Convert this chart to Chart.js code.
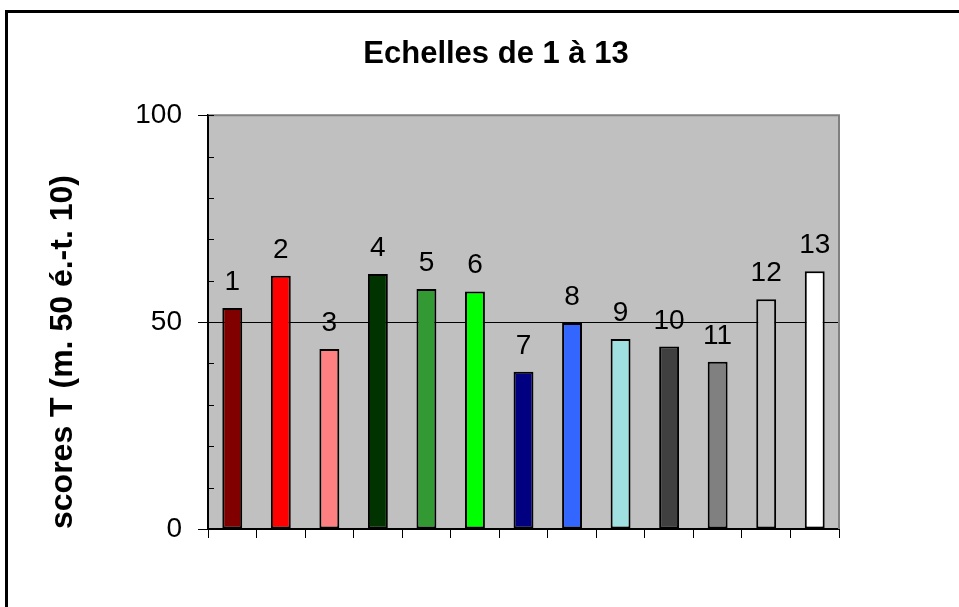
<!DOCTYPE html>
<html>
<head>
<meta charset="utf-8">
<script src="https://cdn.jsdelivr.net/npm/chart.js@4"></script>
<style>
  html, body { margin: 0; padding: 0; background: #fff; }
  #wrap { width: 959px; height: 607px; }
</style>
</head>
<body>
<div id="wrap"><canvas id="bars1"></canvas></div>
<script>
var labels = ['1','2','3','4','5','6','7','8','9','10','11','12','13'];
var scores = [53.4, 61.2, 43.5, 61.6, 58.0, 57.4, 38.0, 49.8, 45.9, 44.1, 40.4, 55.5, 62.3];
var colors = ['#800000','#ff0000','#ff8080','#003300','#339933','#00ff00','#000080','#3366ff','#a0e0e0','#404040','#808080','#c0c0c0','#ffffff'];
var yTicksShown = [0, 50, 100];

var font = "'Liberation Sans', Arial, sans-serif";

// gray plot area + outer frame
var backdrop = {
    id: 'backdrop',
    beforeDraw: function (chart) {
        var c = chart.ctx, a = chart.chartArea;
        c.save();
        c.fillStyle = '#c0c0c0';
        c.fillRect(a.left, a.top, a.right - a.left, a.bottom - a.top);
        c.strokeStyle = '#000';
        c.lineWidth = 3;
        c.beginPath();
        c.moveTo(6.5, 607);
        c.lineTo(6.5, 11.5);
        c.lineTo(959, 11.5);
        c.stroke();
        c.restore();
    },
    afterDraw: function (chart) {
        var c = chart.ctx, a = chart.chartArea, y = chart.scales.y;
        c.save();
        c.strokeStyle = '#808080';
        c.lineWidth = 2;
        c.beginPath();
        c.moveTo(a.left, a.top);
        c.lineTo(a.right, a.top);
        c.lineTo(a.right, a.bottom);
        c.stroke();
        // small inner ticks every 10
        c.strokeStyle = '#000';
        c.lineWidth = 1;
        for (var v = 0; v <= 100; v += 10) {
            var py = Math.round(y.getPixelForValue(v)) + 0.5;
            c.beginPath();
            c.moveTo(a.left, py);
            c.lineTo(a.left + 6, py);
            c.stroke();
        }
        c.restore();
    }
};

// number above each bar
var barLabels = {
    id: 'barLabels',
    afterDatasetsDraw: function (chart) {
        var c = chart.ctx;
        var meta = chart.getDatasetMeta(0);
        c.save();
        c.font = '28px ' + font;
        c.fillStyle = '#000';
        c.textAlign = 'center';
        c.textBaseline = 'alphabetic';
        meta.data.forEach(function (bar, i) {
            c.fillText(labels[i], bar.x, bar.y - 18);
        });
        c.restore();
    }
};

var ctx = document.getElementById('bars1').getContext('2d');
new Chart(ctx, {
    type: 'bar',
    data: {
        labels: labels,
        datasets: [{
            data: scores,
            backgroundColor: colors,
            borderColor: '#000',
            borderWidth: 2,
            borderSkipped: false,
            barPercentage: 0.41,
            categoryPercentage: 1
        }]
    },
    options: {
        responsive: true,
        maintainAspectRatio: false,
        animation: false,
        layout: { padding: { left: 33, right: 0, top: 0, bottom: 0 } },
        plugins: {
            legend: { display: false },
            tooltip: { enabled: false },
            title: {
                display: true,
                text: 'Echelles de 1 à 13',
                color: '#000',
                font: { family: font, size: 31, weight: 'bold', lineHeight: 1.2 },
                padding: { top: 36, bottom: 42 }
            }
        },
        scales: {
            x: {
                grid: {
                    offset: true,
                    drawOnChartArea: false,
                    drawTicks: true,
                    tickLength: 9,
                    tickColor: '#000',
                    tickWidth: 1
                },
                border: { color: '#000', width: 2 },
                ticks: { display: false },
                afterFit: function (s) { s.height = 78; }
            },
            y: {
                min: 0,
                max: 100,
                ticks: {
                    stepSize: 10,
                    autoSkip: false,
                    padding: 16,
                    color: '#000',
                    font: { family: font, size: 28 },
                    callback: function (v) { return yTicksShown.indexOf(v) >= 0 ? String(v) : ''; }
                },
                grid: {
                    color: function (c) { return c.tick && c.tick.value === 50 ? '#000' : 'rgba(0,0,0,0)'; },
                    lineWidth: 1,
                    drawTicks: true,
                    tickLength: 10,
                    tickColor: function (c) { return c.tick && yTicksShown.indexOf(c.tick.value) >= 0 ? '#000' : 'rgba(0,0,0,0)'; }
                },
                border: { color: '#000', width: 2 },
                title: {
                    display: true,
                    align: 'start',
                    text: 'scores T (m. 50 é.-t. 10)',
                    color: '#000',
                    font: { family: font, size: 32, weight: 'bold', lineHeight: 1.2 },
                    padding: { top: 11, bottom: 0 }
                },
                afterFit: function (s) { s.width = 175; }
            },
            // empty right-hand margin so the title centres on the whole frame
            yRight: {
                position: 'right',
                display: true,
                ticks: { display: false },
                grid: { display: false },
                border: { display: false },
                afterFit: function (s) { s.width = 120; }
            }
        }
    },
    plugins: [backdrop, barLabels]
});
</script>
</body>
</html>
